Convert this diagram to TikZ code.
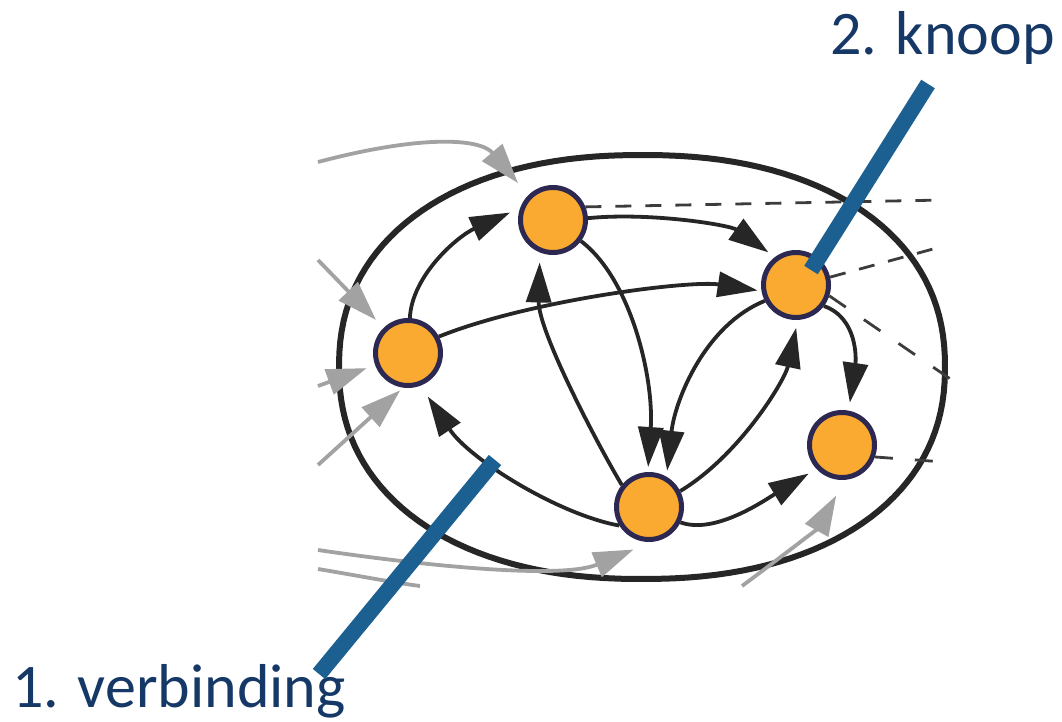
\documentclass[tikz,border=0pt]{standalone}
\usepackage{fontspec}
\setmainfont{Carlito}
\usetikzlibrary{arrows.meta}

\definecolor{nodefill}{RGB}{250,170,48}
\definecolor{nodeline}{RGB}{45,40,82}
\definecolor{edgeblack}{RGB}{38,38,38}
\definecolor{edgegrey}{RGB}{162,162,162}
\definecolor{dashgrey}{RGB}{60,60,60}
\definecolor{barblue}{RGB}{27,96,145}
\definecolor{labelblue}{RGB}{22,56,102}

\tikzset{
  vertex/.style={circle, fill=nodefill, draw=nodeline, line width=5pt,
                 minimum size=65pt, inner sep=0pt},
  link/.style={draw=edgeblack, line width=3.8pt,
               -{Triangle[length=40pt,width=25pt]}},
  inlink/.style={draw=edgegrey, line width=3.8pt,
                 -{Triangle[length=40pt,width=26pt]}},
  greyline/.style={draw=edgegrey, line width=3.8pt},
  outlink/.style={draw=dashgrey, line width=2.8pt, dash pattern=on 16pt off 14pt},
  boundary/.style={draw=edgeblack, line width=6pt},
  pointer/.style={draw=barblue, line width=16pt},
  calltext/.style={text=labelblue, inner sep=0pt, anchor=base west,
                   font=\fontsize{62pt}{70pt}\selectfont}
}

\begin{document}
\begin{tikzpicture}[x=1pt, y=-1pt]
  \useasboundingbox (0,0) rectangle (1062,722);

  % the five vertices
  \node[vertex] (A) at (408,353) {};
  \node[vertex] (B) at (553,220) {};
  \node[vertex] (C) at (796,285) {};
  \node[vertex] (D) at (842,445) {};
  \node[vertex] (E) at (649,507) {};

  % system boundary: a slightly squarish ellipse
  \draw[boundary, line join=round] plot[domain=0.5:360.5, samples=145]
    ({642+303*cos(\x)*abs(cos(\x))^(-0.1)},
     {367+212*sin(\x)*abs(sin(\x))^(-0.1)}) -- cycle;

  % incoming links from outside
  \coordinate (g1) at (318,162);
  \coordinate (g2) at (318,260);
  \coordinate (g3) at (318,386);
  \coordinate (g4) at (318,465);
  \coordinate (g5) at (318,550);
  \coordinate (g6a) at (318,569);
  \coordinate (g6b) at (420,586);
  \coordinate (g7) at (742,586);
  \draw[inlink, shorten >=16pt] (g1) .. controls (420,135) and (480,138) .. (B.135);
  \draw[inlink, shorten >=11pt] (g2) -- (A);
  \draw[inlink, shorten >=9pt] (g3) -- (A);
  \draw[inlink, shorten >=4pt] (g4) -- (A.262);
  \draw[inlink, shorten >=20pt] (g5) .. controls (420,565) and (560,580) .. (E.275);
  \draw[greyline] (g6a) .. controls (360,576) and (390,582) .. (g6b);
  \draw[inlink, shorten >=18pt] (g7) .. controls (780,558) and (818,528) .. (D.275);

  % outgoing links, dashed
  \coordinate (o1) at (944,200);
  \coordinate (o2) at (944,246);
  \coordinate (o3) at (962,387);
  \coordinate (o4) at (944,462);
  \draw[outlink] (B.22) -- (o1);
  \draw[outlink] (C.13) -- (o2);
  \draw[outlink, dash pattern=on 20pt off 22pt] (C.342) -- (o3);
  \draw[outlink, dash pattern=on 18pt off 22pt] (D.340) -- (o4);

  % internal links
  \draw[link, shorten >=11pt] (A.87) .. controls (412,275) and (458,236) .. (B.160);
  \draw[link, shorten >=4pt] (A.28) .. controls (530,300) and (690,280) .. (C.190);
  \draw[link, shorten >=8pt] (B.3) .. controls (650,212) and (730,225) .. (C.127);
  \draw[link, shorten >=10pt] (E.141) .. controls (595,440) and (538,330) .. (B.248);
  \draw[link, shorten >=5pt] (B.323) .. controls (632,280) and (654,380) .. (E.92);
  \draw[link, shorten >=6pt] (C.207) .. controls (705,325) and (675,400) .. (E.60);
  \draw[link, shorten >=8pt] (E.27) .. controls (740,455) and (785,380) .. (C.273);
  \draw[link, shorten >=8pt] (C.323) .. controls (858,318) and (856,360) .. (D.79);
  \draw[link, shorten >=9pt] (E.334) .. controls (715,535) and (765,500) .. (D.223);
  \draw[link, shorten >=13pt] (E.212) .. controls (560,515) and (470,460) .. (A.291);

  % callouts
  \node[calltext] (knoop) at (830,55) {2. knoop};
  \node[calltext] (verb) at (12,707) {1. verbinding};
  \coordinate (k1) at (928,84);
  \coordinate (k2) at (811,270);
  \coordinate (v1) at (319,674);
  \coordinate (v2) at (495,460);
  \draw[pointer] (k1) -- (k2);
  \draw[pointer] (v1) -- (v2);
\end{tikzpicture}
\end{document}
